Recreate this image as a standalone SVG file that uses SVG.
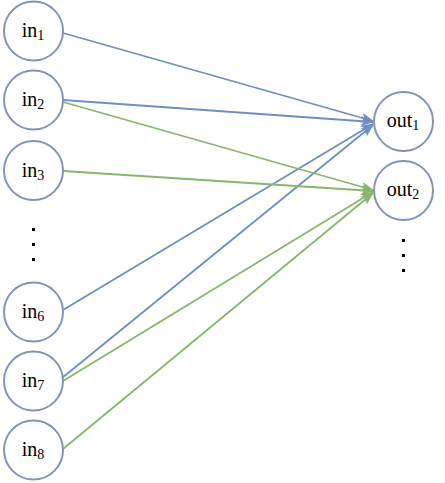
<svg xmlns="http://www.w3.org/2000/svg" width="445" height="483" viewBox="0 0 445 483">
<style>
.node circle{fill:#fff;stroke:#8494b6;stroke-width:2}
.node text{font-family:"Liberation Serif",serif;font-size:20px;fill:#000;text-anchor:middle}
.sub{font-size:14px}
.blue{stroke:#6f8ec2;stroke-width:1.8;fill:none;marker-end:url(#ab)}
.green{stroke:#88b66a;stroke-width:1.8;fill:none;marker-end:url(#ag)}
.dot{fill:#000}
</style>
<defs>
<marker id="ab" markerWidth="13" markerHeight="10" refX="12" refY="5" orient="auto" markerUnits="userSpaceOnUse"><path d="M0,0 L13,5 L0,10 L3,5 Z" fill="#6f8ec2"/></marker>
<marker id="ag" markerWidth="13" markerHeight="10" refX="12" refY="5" orient="auto" markerUnits="userSpaceOnUse"><path d="M0,0 L13,5 L0,10 L3,5 Z" fill="#88b66a"/></marker>
</defs>
<rect width="445" height="483" fill="#fff"/>
<g id="connectors">
<line class="blue" x1="63" y1="33" x2="373" y2="121"/>
<line class="blue" x1="63" y1="100" x2="373" y2="122"/>
<line class="blue" x1="63" y1="310" x2="373" y2="124"/>
<line class="blue" x1="62" y1="378" x2="373" y2="125"/>
<line class="green" x1="63" y1="102" x2="373" y2="190"/>
<line class="green" x1="63" y1="171" x2="373" y2="191"/>
<line class="green" x1="63" y1="381" x2="373" y2="192"/>
<line class="green" x1="63" y1="449" x2="373" y2="193"/>
</g>
<g id="in1" class="node"><circle cx="33.5" cy="31" r="29.5"/><text x="33" y="37">in<tspan class="sub" dy="3">1</tspan></text></g>
<g id="in2" class="node"><circle cx="33.5" cy="100" r="29.5"/><text x="33" y="106">in<tspan class="sub" dy="3">2</tspan></text></g>
<g id="in3" class="node"><circle cx="33.5" cy="170.5" r="29.5"/><text x="33" y="177">in<tspan class="sub" dy="3">3</tspan></text></g>
<g id="in6" class="node"><circle cx="33.5" cy="312" r="29.5"/><text x="33" y="318">in<tspan class="sub" dy="3">6</tspan></text></g>
<g id="in7" class="node"><circle cx="33.5" cy="381" r="29.5"/><text x="33" y="387">in<tspan class="sub" dy="3">7</tspan></text></g>
<g id="in8" class="node"><circle cx="33.5" cy="450" r="29.5"/><text x="33" y="456">in<tspan class="sub" dy="3">8</tspan></text></g>
<g id="out1" class="node"><circle cx="403.5" cy="121.5" r="29.5"/><text x="403" y="127">out<tspan class="sub" dy="3">1</tspan></text></g>
<g id="out2" class="node"><circle cx="403.5" cy="190.5" r="29.5"/><text x="403" y="196">out<tspan class="sub" dy="3">2</tspan></text></g>
<g id="dots-left">
<rect class="dot" x="32" y="228" width="3" height="3"/>
<rect class="dot" x="32" y="243" width="3" height="3"/>
<rect class="dot" x="32" y="258" width="3" height="3"/>
</g>
<g id="dots-right">
<rect class="dot" x="402" y="239" width="3" height="3"/>
<rect class="dot" x="402" y="254" width="3" height="3"/>
<rect class="dot" x="402" y="269" width="3" height="3"/>
</g>
</svg>
